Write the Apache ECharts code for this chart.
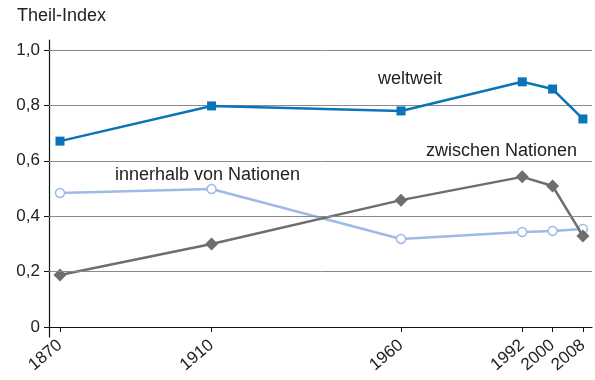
<!DOCTYPE html>
<html>
<head>
<meta charset="utf-8">
<script src="https://cdn.jsdelivr.net/npm/echarts@6/dist/echarts.min.js"></script>
<style>
  html, body { margin: 0; padding: 0; background: #fff; }
  #chart { width: 595px; height: 380px; }
</style>
</head>
<body>
<div id="chart"></div>
<script>
// Jahre (x) und Theil-Index-Werte je Komponente
const years = [1870, 1910, 1960, 1992, 2000, 2008];
const weltweit = [0.671, 0.798, 0.780, 0.885, 0.859, 0.751];
const innerhalb = [0.484, 0.498, 0.318, 0.343, 0.347, 0.354];
const zwischen = [0.188, 0.300, 0.458, 0.542, 0.509, 0.329];
const yTicks = [0, 0.2, 0.4, 0.6, 0.8, 1.0];
const gridValues = [0.2, 0.4, 0.6, 0.8, 1.0];

const FONT = '"Liberation Sans", Arial, sans-serif';
const pairs = (vals) => years.map((y, i) => [y, vals[i]]);

const chart = echarts.init(document.getElementById('chart'), null, { renderer: 'canvas' });

chart.setOption({
  animation: false,
  textStyle: { fontFamily: FONT },
  grid: { left: 49, right: 3, top: 40, bottom: 43, containLabel: false },
  xAxis: {
    type: 'value',
    min: 1867.1,
    max: 2010.4,
    splitLine: { show: false },
    axisLine: { show: true, lineStyle: { color: '#111', width: 1.2 } },
    axisTick: { show: true, customValues: years, length: 5, lineStyle: { color: '#111' } },
    axisLabel: {
      customValues: years,
      rotate: 40,
      margin: 6,
      color: '#222',
      fontSize: 17,
      fontFamily: FONT,
      formatter: (v) => String(v)
    }
  },
  yAxis: {
    type: 'value',
    min: -0.036,
    max: 1.036,
    splitLine: { show: false },
    axisLine: { show: true, lineStyle: { color: '#111', width: 1.2 } },
    axisTick: { show: true, customValues: yTicks, length: 5, lineStyle: { color: '#111' } },
    axisLabel: {
      customValues: yTicks,
      margin: 9,
      color: '#222',
      fontSize: 17,
      fontFamily: FONT,
      formatter: (v) => v === 0 ? '0' : v.toFixed(1).replace('.', ',')
    }
  },
  graphic: [
    { type: 'text', left: 17, top: 7, style: { text: 'Theil-Index', fill: '#222', font: '18px ' + FONT } },
    { type: 'text', left: 378, top: 70, style: { text: 'weltweit', fill: '#222', font: '18px ' + FONT } },
    { type: 'text', left: 115, top: 166, style: { text: 'innerhalb von Nationen', fill: '#222', font: '18px ' + FONT } },
    { type: 'text', left: 426, top: 142, style: { text: 'zwischen Nationen', fill: '#222', font: '18px ' + FONT } }
  ],
  series: [
    {
      name: 'Gitter',
      type: 'line',
      data: [],
      silent: true,
      markLine: {
        silent: true,
        symbol: 'none',
        label: { show: false },
        lineStyle: { color: '#8a8a8a', width: 1, type: 'solid' },
        data: gridValues.map((v) => ({ yAxis: v }))
      }
    },
    {
      name: 'innerhalb von Nationen',
      type: 'line',
      data: pairs(innerhalb),
      symbol: 'circle',
      symbolSize: 9,
      showAllSymbol: true,
      lineStyle: { color: '#9dbbe6', width: 2.5 },
      itemStyle: { color: '#ffffff', borderColor: '#9dbbe6', borderWidth: 1.5 },
      z: 3
    },
    {
      name: 'zwischen Nationen',
      type: 'line',
      data: pairs(zwischen),
      symbol: 'diamond',
      symbolSize: 13,
      lineStyle: { color: '#6e6e6e', width: 2.5 },
      itemStyle: { color: '#6e6e6e' },
      z: 4
    },
    {
      name: 'weltweit',
      type: 'line',
      data: pairs(weltweit),
      symbol: 'rect',
      symbolSize: 9,
      lineStyle: { color: '#0a74ba', width: 2.5 },
      itemStyle: { color: '#0a74ba' },
      z: 5
    }
  ]
});
</script>
</body>
</html>
